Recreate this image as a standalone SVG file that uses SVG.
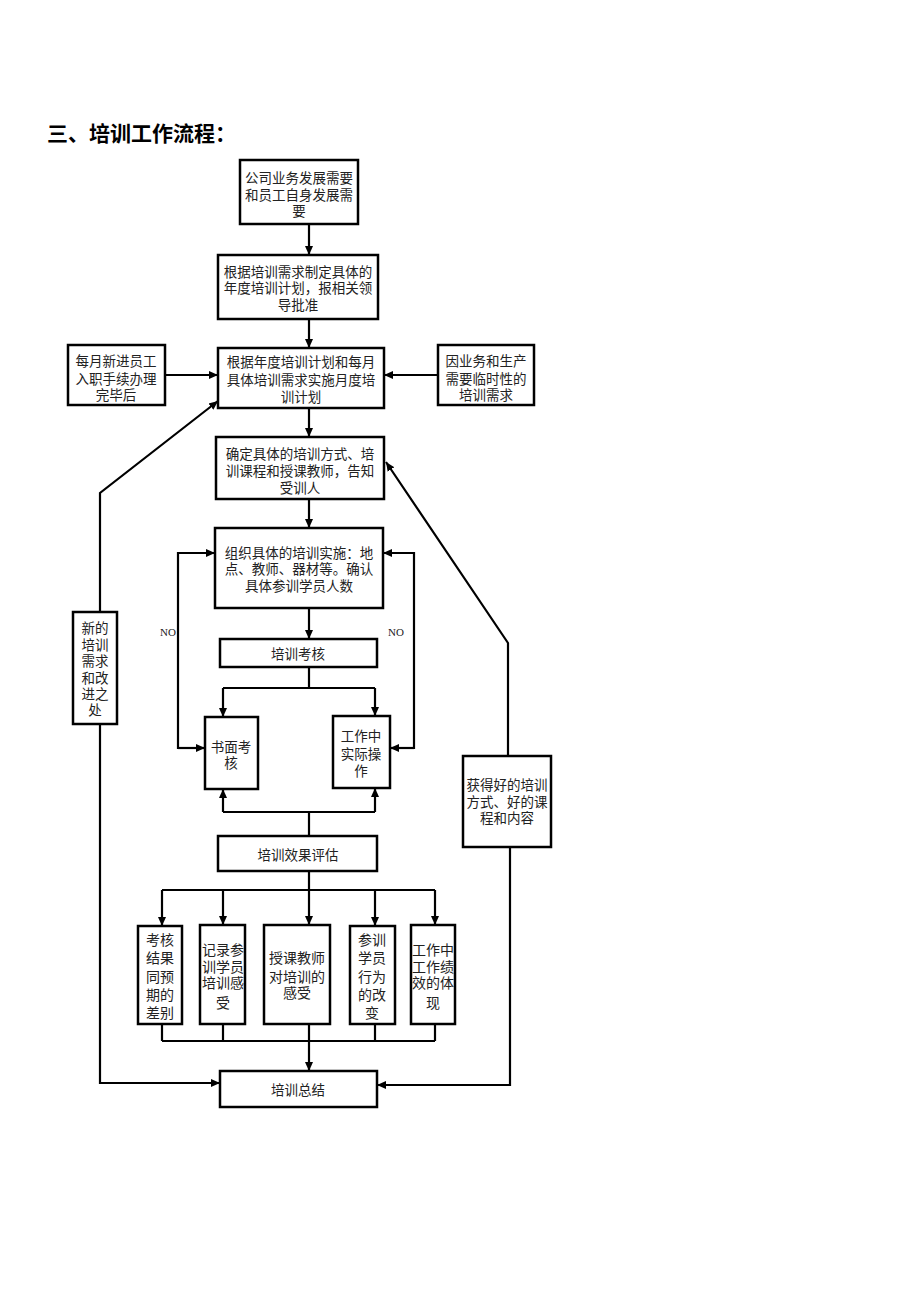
<svg xmlns="http://www.w3.org/2000/svg" width="920" height="1301" viewBox="0 0 920 1301">
<style>
.b{fill:#fff;stroke:#000;stroke-width:2.5}
.t{font-family:"Liberation Serif","Noto Sans CJK SC",serif;font-size:13.5px;fill:#222;text-anchor:middle}
.s{font-family:"Liberation Serif","Noto Sans CJK SC",serif;font-size:14px;fill:#222;text-anchor:middle}
.c{fill:none;stroke:#000;stroke-width:2.2}
.n{font-family:"Liberation Serif",serif;font-size:11px;fill:#222}
</style>
<defs>
<marker id="a" markerUnits="userSpaceOnUse" markerWidth="10" markerHeight="10" refX="9" refY="5" orient="auto">
<path d="M0,1 L9,5 L0,9 Z" fill="#000"/>
</marker>
</defs>
<rect width="920" height="1301" fill="#fff"/>
<text x="47" y="141" style="font-family:'Liberation Sans','Noto Sans CJK SC',sans-serif;font-size:21px;font-weight:bold">三、培训工作流程：</text>

<g id="connectors">
<path class="c" d="M309,224 V255" marker-end="url(#a)"/>
<path class="c" d="M309,319 V348" marker-end="url(#a)"/>
<path class="c" d="M165,375 H218" marker-end="url(#a)"/>
<path class="c" d="M438,375 H384" marker-end="url(#a)"/>
<path class="c" d="M309,408 V437" marker-end="url(#a)"/>
<path class="c" d="M309,499 V528" marker-end="url(#a)"/>
<path class="c" d="M309,608 V639" marker-end="url(#a)"/>
<path class="c" d="M309,667 V688 M223,688 H375"/>
<path class="c" d="M223,688 V717" marker-end="url(#a)"/>
<path class="c" d="M375,688 V716" marker-end="url(#a)"/>
<path class="c" d="M205,748 H178 V553 H215" marker-end="url(#a)"/>
<path class="c" d="M178,748 H205" marker-end="url(#a)"/>
<path class="c" d="M390,748 H414 V553 H383" marker-end="url(#a)"/>
<path class="c" d="M414,748 H390" marker-end="url(#a)"/>
<path class="c" d="M309,836 V812 M223,812 H375"/>
<path class="c" d="M223,812 V789" marker-end="url(#a)"/>
<path class="c" d="M375,812 V788" marker-end="url(#a)"/>
<path class="c" d="M309,871 V890 M162,890 H435"/>
<path class="c" d="M162,890 V926" marker-end="url(#a)"/>
<path class="c" d="M223,890 V925" marker-end="url(#a)"/>
<path class="c" d="M309,890 V925" marker-end="url(#a)"/>
<path class="c" d="M375,890 V926" marker-end="url(#a)"/>
<path class="c" d="M435,890 V925" marker-end="url(#a)"/>
<path class="c" d="M162,1024 V1041 M223,1024 V1041 M375,1024 V1041 M435,1024 V1041 M162,1041 H435"/>
<path class="c" d="M309,1024 V1071" marker-end="url(#a)"/>
<path class="c" d="M100,612 V493 L218,401" marker-end="url(#a)"/>
<path class="c" d="M100,724 V1083 H220" marker-end="url(#a)"/>
<path class="c" d="M508,756 V643 L386,462" marker-end="url(#a)"/>
<path class="c" d="M510,847 V1085 H377" marker-end="url(#a)"/>
<text class="n" x="160" y="636">NO</text>
<text class="n" x="388" y="636">NO</text>
</g>

<g id="n1"><rect class="b" x="240" y="160" width="118" height="64"/>
<text class="t" x="299" y="183">公司业务发展需要</text><text class="t" x="299" y="200">和员工自身发展需</text><text class="t" x="299" y="216">要</text></g>
<g id="n2"><rect class="b" x="218" y="255" width="160" height="64"/>
<text class="t" x="298" y="277">根据培训需求制定具体的</text><text class="t" x="298" y="293">年度培训计划，报相关领</text><text class="t" x="298" y="310">导批准</text></g>
<g id="n3"><rect class="b" x="218" y="348" width="166" height="60"/>
<text class="t" x="301" y="367">根据年度培训计划和每月</text><text class="t" x="301" y="385">具体培训需求实施月度培</text><text class="t" x="301" y="402">训计划</text></g>
<g id="nL"><rect class="b" x="68" y="345" width="97" height="60"/>
<text class="t" x="116" y="366">每月新进员工</text><text class="t" x="116" y="384">入职手续办理</text><text class="t" x="116" y="400">完毕后</text></g>
<g id="nR"><rect class="b" x="438" y="345" width="96" height="60"/>
<text class="t" x="486" y="366">因业务和生产</text><text class="t" x="486" y="384">需要临时性的</text><text class="t" x="486" y="400">培训需求</text></g>
<g id="n4"><rect class="b" x="216" y="437" width="168" height="62"/>
<text class="t" x="300" y="459">确定具体的培训方式、培</text><text class="t" x="300" y="476">训课程和授课教师，告知</text><text class="t" x="300" y="493">受训人</text></g>
<g id="n5"><rect class="b" x="215" y="528" width="168" height="80"/>
<text class="t" x="299" y="558">组织具体的培训实施：地</text><text class="t" x="299" y="574">点、教师、器材等。确认</text><text class="t" x="299" y="591">具体参训学员人数</text></g>
<g id="n6"><rect class="b" x="220" y="639" width="157" height="28"/>
<text class="t" x="298" y="659">培训考核</text></g>
<g id="n7"><rect class="b" x="205" y="717" width="53" height="72"/>
<text class="t" x="231" y="752">书面考</text><text class="t" x="231" y="768">核</text></g>
<g id="n8"><rect class="b" x="333" y="716" width="57" height="72"/>
<text class="t" x="361" y="741">工作中</text><text class="t" x="361" y="759">实际操</text><text class="t" x="361" y="776">作</text></g>
<g id="n9"><rect class="b" x="218" y="836" width="159" height="35"/>
<text class="t" x="298" y="860">培训效果评估</text></g>
<g id="b1"><rect class="b" x="138" y="926" width="44" height="98"/>
<text class="s" x="160" y="945">考核</text><text class="s" x="160" y="963">结果</text><text class="s" x="160" y="982">同预</text><text class="s" x="160" y="1000">期的</text><text class="s" x="160" y="1018">差别</text></g>
<g id="b2"><rect class="b" x="200" y="925" width="45" height="99"/>
<text class="s" x="223" y="955">记录参</text><text class="s" x="223" y="972">训学员</text><text class="s" x="223" y="988">培训感</text><text class="s" x="223" y="1008">受</text></g>
<g id="b3"><rect class="b" x="264" y="925" width="66" height="99"/>
<text class="s" x="297" y="963">授课教师</text><text class="s" x="297" y="982">对培训的</text><text class="s" x="297" y="998">感受</text></g>
<g id="b4"><rect class="b" x="350" y="926" width="45" height="98"/>
<text class="s" x="372" y="945">参训</text><text class="s" x="372" y="963">学员</text><text class="s" x="372" y="982">行为</text><text class="s" x="372" y="1000">的改</text><text class="s" x="372" y="1018">变</text></g>
<g id="b5"><rect class="b" x="411" y="925" width="44" height="99"/>
<text class="s" x="433" y="955">工作中</text><text class="s" x="433" y="972">工作绩</text><text class="s" x="433" y="988">效的体</text><text class="s" x="433" y="1008">现</text></g>
<g id="n10"><rect class="b" x="220" y="1071" width="157" height="36"/>
<text class="t" x="298" y="1095">培训总结</text></g>
<g id="nF1"><rect class="b" x="73" y="612" width="44" height="112"/>
<text class="t" x="95" y="633">新的</text><text class="t" x="95" y="650">培训</text><text class="t" x="95" y="666">需求</text><text class="t" x="95" y="683">和改</text><text class="t" x="95" y="699">进之</text><text class="t" x="95" y="715">处</text></g>
<g id="nF2"><rect class="b" x="463" y="756" width="88" height="91"/>
<text class="t" x="507" y="790">获得好的培训</text><text class="t" x="507" y="807">方式、好的课</text><text class="t" x="507" y="823">程和内容</text></g>
</svg>
